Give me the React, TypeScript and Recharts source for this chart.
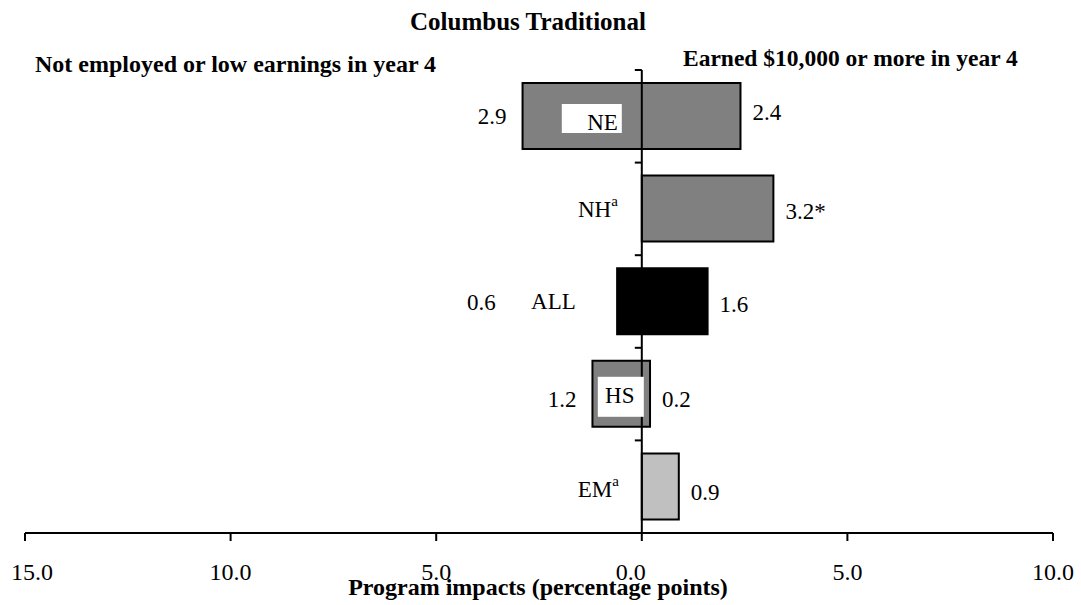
import React from 'react';
import { BarChart, Bar, XAxis, YAxis, ReferenceLine, LabelList, Cell } from 'recharts';

// ---- data ----
const categories = ['NE', 'NH', 'ALL', 'HS', 'EM'];
const categoryNotes = ['', 'a', '', '', 'a'];
const lowEarningsImpacts: (number | null)[] = [2.9, null, 0.6, 1.2, null];
const highEarningsImpacts = [2.4, 3.2, 1.6, 0.2, 0.9];
const highEarningsSignificance = ['', '*', '', '', ''];
const barColors = ['#808080', '#808080', '#000000', '#808080', '#c0c0c0'];
const xTicks = [-15, -10, -5, 0, 5, 10];

const title = 'Columbus Traditional';
const leftHeading = 'Not employed or low earnings in year 4';
const rightHeading = 'Earned $10,000 or more in year 4';
const xAxisTitle = 'Program impacts (percentage points)';

const data = categories.map((cat, i) => ({
  cat,
  range: [-(lowEarningsImpacts[i] ?? 0), highEarningsImpacts[i]],
}));

// ---- styling ----
const FONT = '"Liberation Serif", "Times New Roman", serif';
const FS = 23;

type CatStyle = {
  box?: { l: number; r: number; t: number; b: number };
  anchor: 'end' | 'middle';
  tx: number;
  ty: number;
  leftBase: number;
  rightBase: number;
  leftEndFromZero?: number;
};

const catStyles: Record<string, CatStyle> = {
  NE: { box: { l: -80, r: -20, t: -12, b: 17 }, anchor: 'end', tx: -24, ty: 14, leftBase: 8, rightBase: 4 },
  NH: { anchor: 'end', tx: -24, ty: 8, leftBase: 10, rightBase: 10 },
  ALL: { anchor: 'end', tx: -66, ty: 8, leftBase: 8.5, rightBase: 11, leftEndFromZero: -146 },
  HS: { box: { l: -44, r: 2, t: -17, b: 23 }, anchor: 'middle', tx: -22, ty: 9, leftBase: 13, rightBase: 13 },
  EM: { anchor: 'end', tx: -23, ty: 11, leftBase: 14, rightBase: 14 },
};

const tickNudge: Record<number, number> = { [-15]: 7, 0: -11 };

const renderBarLabels = (props: any) => {
  const index: number = props.index;
  const vb = props.viewBox && props.viewBox.width !== undefined ? props.viewBox : props;
  const x = Number(vb.x);
  const w = Number(vb.width);
  const y = Number(vb.y);
  const h = Number(vb.height);
  const left = Math.min(x, x + w);
  const right = Math.max(x, x + w);
  const [low, high] = data[index].range;
  const zero = left + ((right - left) * (0 - low)) / (high - low);
  const cy = y + h / 2;
  const cat = categories[index];
  const st = catStyles[cat];
  const lowVal = lowEarningsImpacts[index];
  const note = categoryNotes[index];
  return (
    <g key={`lbl-${index}`}>
      {st.box && (
        <rect
          x={zero + st.box.l}
          y={cy + st.box.t}
          width={st.box.r - st.box.l}
          height={st.box.b - st.box.t}
          fill="#ffffff"
        />
      )}
      <text
        x={zero + st.tx}
        y={cy + st.ty}
        textAnchor={st.anchor}
        fontFamily={FONT}
        fontSize={FS}
        fill="#000"
      >
        {cat}
        {note && (
          <tspan fontSize={15} dy={-11}>
            {note}
          </tspan>
        )}
      </text>
      {lowVal !== null && (
        <text
          x={st.leftEndFromZero !== undefined ? zero + st.leftEndFromZero : left - 16}
          y={cy + st.leftBase}
          textAnchor="end"
          fontFamily={FONT}
          fontSize={FS}
          fill="#000"
        >
          {lowVal.toFixed(1)}
        </text>
      )}
      <text
        x={right + 12}
        y={cy + st.rightBase}
        textAnchor="start"
        fontFamily={FONT}
        fontSize={FS}
        fill="#000"
      >
        {highEarningsImpacts[index].toFixed(1) + highEarningsSignificance[index]}
      </text>
    </g>
  );
};

const renderTick = (p: any) => {
  const v = Number(p.payload.value);
  const dx = tickNudge[v] ?? 0;
  return (
    <text
      x={p.x + dx}
      y={p.y + 17}
      textAnchor="middle"
      fontFamily={FONT}
      fontSize={24}
      fill="#000"
    >
      {Math.abs(v).toFixed(1)}
    </text>
  );
};

export default function App() {
  return (
    <div style={{ position: 'absolute', left: 0, top: 0, width: 1081, height: 605, background: '#ffffff' }}>
      <BarChart
        width={1081}
        height={605}
        layout="vertical"
        data={data}
        margin={{ top: 70, right: 28, bottom: 0, left: 25 }}
        barSize={66}
      >
        <XAxis
          type="number"
          domain={[-15, 10]}
          ticks={xTicks}
          allowDataOverflow
          height={72}
          tickSize={8}
          tickMargin={22}
          axisLine={{ stroke: '#000', strokeWidth: 2 }}
          tickLine={{ stroke: '#000', strokeWidth: 2 }}
          tick={renderTick}
          interval={0}
        />
        <YAxis type="category" dataKey="cat" hide />
        <Bar dataKey="range" stroke="#000" strokeWidth={2} isAnimationActive={false}>
          {data.map((d, i) => (
            <Cell key={d.cat} fill={barColors[i]} />
          ))}
          <LabelList dataKey="cat" content={renderBarLabels} />
        </Bar>
        <ReferenceLine x={0} stroke="#000" strokeWidth={2} />
        {categories.map((c) => (
          <ReferenceLine
            key={`tk-${c}`}
            segment={[
              { x: -0.17, y: c },
              { x: 0, y: c },
            ]}
            position="start"
            stroke="#000"
            strokeWidth={2}
          />
        ))}
      </BarChart>
      <svg
        width={1081}
        height={605}
        style={{ position: 'absolute', left: 0, top: 0, pointerEvents: 'none' }}
      >
        <text x={528} y={30} textAnchor="middle" fontFamily={FONT} fontWeight="bold" fontSize={25} fill="#000">
          {title}
        </text>
        <text x={35} y={72} textAnchor="start" fontFamily={FONT} fontWeight="bold" fontSize={24} fill="#000">
          {leftHeading}
        </text>
        <text x={683} y={66} textAnchor="start" fontFamily={FONT} fontWeight="bold" fontSize={23.5} fill="#000">
          {rightHeading}
        </text>
        <text x={538} y={595} textAnchor="middle" fontFamily={FONT} fontWeight="bold" fontSize={24} fill="#000">
          {xAxisTitle}
        </text>
      </svg>
    </div>
  );
}
